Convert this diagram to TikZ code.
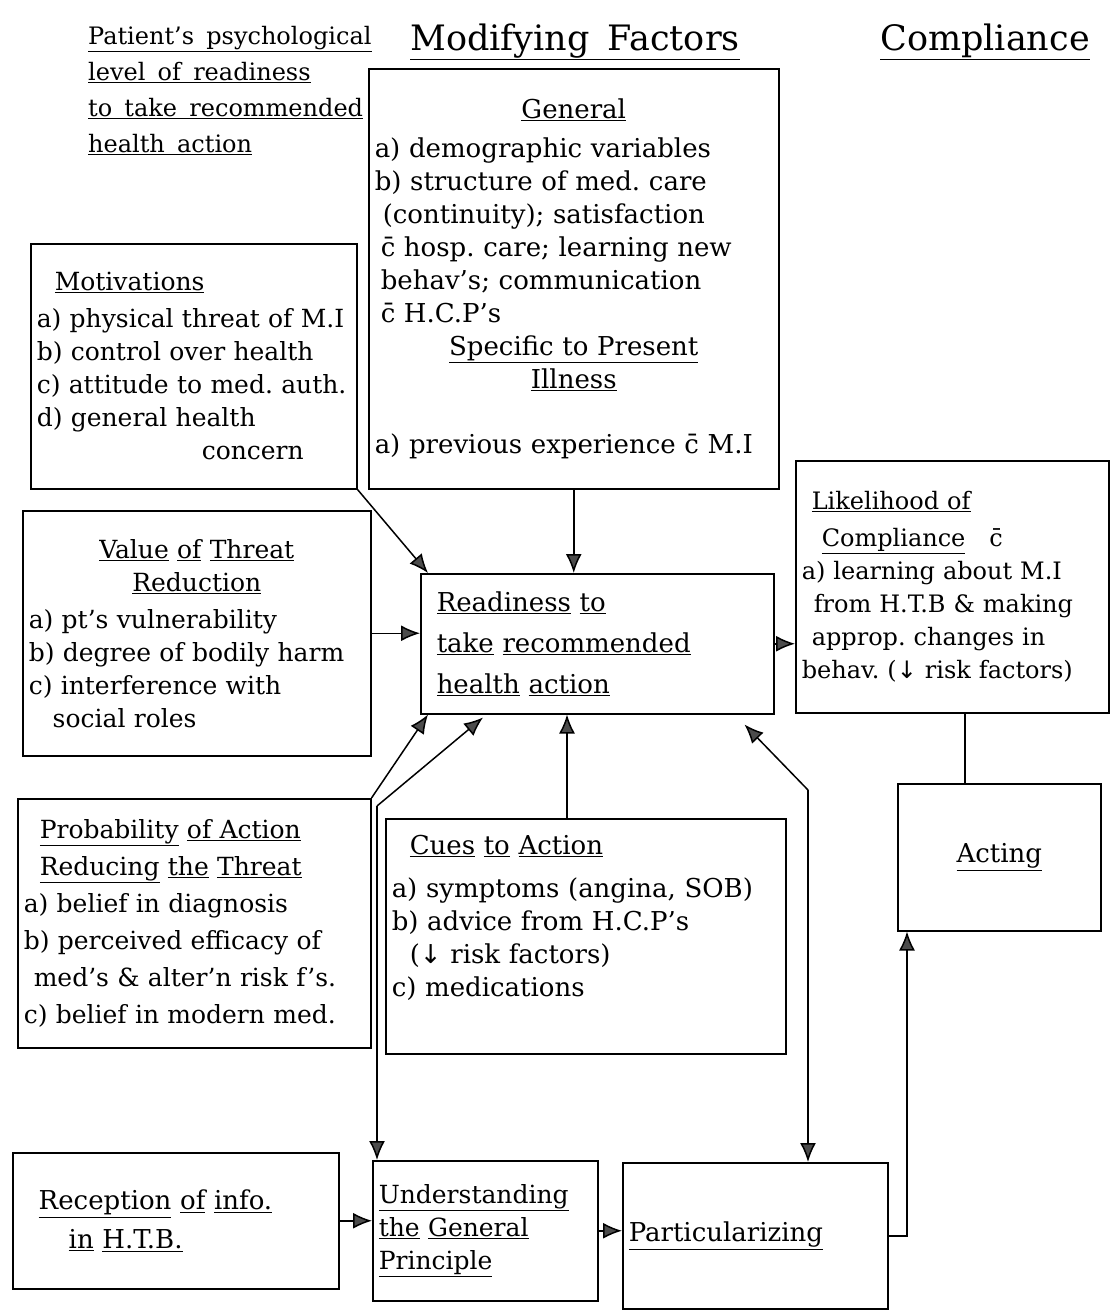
\documentclass[tikz,border=0pt]{standalone}
\usepackage{fontspec}
\setmainfont{DejaVu Serif}[WordSpace=1.6]
\newfontfamily\arrowfont{DejaVu Sans}
\usetikzlibrary{arrows.meta,calc}
\frenchspacing
\newcommand\hw[1]{\fontsize{#1}{33}\selectfont\frenchspacing}
\newcommand\ul[1]{\underline{#1}}
\newcommand\dnarr{{\arrowfont ↓}}
\newcommand\cbar{\={c}}
\newcommand\ctr[1]{\makebox[\hsize][c]{#1}}
\tikzset{
  box/.style={draw, line width=1.5pt, anchor=north west, align=left, inner xsep=6pt, inner ysep=4pt, font=\hw{26}},
  con/.style={line width=1.5pt},
  tipA/.tip={Latex[length=19pt,width=16pt,fill=gray!60!black]},
  arr/.style={con, -tipA},
  head/.style={inner sep=0pt, align=left}
}
\begin{document}
\begin{tikzpicture}[x=1pt,y=-1pt]
\fill[white] (0,0) rectangle (1112,1310);
\useasboundingbox (0,0) rectangle (1112,1310);

% headers
\node[head, anchor=north west, font={\fontsize{24}{36}\selectfont\frenchspacing}] (hdrL) at (88,26) {\ul{Patient's psychological}\\ \ul{level of readiness}\\ \ul{to take recommended}\\ \ul{health action}};
\node[head, font=\hw{35}] (hdrM) at (575,42) {\ul{Modifying Factors}};
\node[head, font=\hw{35}] (hdrR) at (985,42) {\ul{Compliance}};

% boxes
\node[box, minimum width=410pt, minimum height=420pt, text width=398pt] (gen) at (368,68) {%
\ctr{\ul{General}}\\[6pt]
a) demographic variables\\
b) structure of med. care\\
\hspace*{8pt}(continuity); satisfaction\\
\hspace*{6pt}\cbar{} hosp. care; learning new\\
\hspace*{6pt}behav's; communication\\
\hspace*{6pt}\cbar{} H.C.P's\\
\ctr{\ul{Specific to Present}}\\
\ctr{\ul{Illness}}\\[32pt]
a) previous experience \cbar{} M.I};

\node[box, minimum width=326pt, minimum height=245pt, text width=314pt, font=\hw{25}] (mot) at (30,243) {%
\hspace*{18pt}\ul{Motivations}\\[4pt]
a) physical threat of M.I\\
b) control over health\\
c) attitude to med. auth.\\
d) general health\\
\hspace*{165pt}concern};

\node[box, minimum width=348pt, minimum height=245pt, text width=336pt, font=\hw{25}] (val) at (22,510) {%
\ctr{\ul{Value} \ul{of} \ul{Threat}}\\
\ctr{\ul{Reduction}}\\[4pt]
a) pt's vulnerability\\
b) degree of bodily harm\\
c) interference with\\
\hspace*{24pt}social roles};

\node[box, minimum width=353pt, minimum height=140pt, text width=341pt] (ready) at (420,573) {%
\hspace*{10pt}\ul{Readiness} \ul{to}\\[8pt]
\hspace*{10pt}\ul{take} \ul{recommended}\\[8pt]
\hspace*{10pt}\ul{health} \ul{action}};

\node[box, minimum width=313pt, minimum height=252pt, text width=301pt, font=\hw{24}] (like) at (795,460) {%
\hspace*{10pt}\ul{Likelihood of}\\[4pt]
\hspace*{20pt}\ul{Compliance}\hspace*{24pt}\cbar\\
a) learning about M.I\\
\hspace*{12pt}from H.T.B \& making\\
\hspace*{10pt}approp. changes in\\
behav. (\dnarr{} risk factors)};

\node[box, minimum width=203pt, minimum height=147pt, text width=191pt, align=center] (act) at (897,783) {\ul{Acting}};

\node[box, minimum width=353pt, minimum height=249pt, text width=341pt, font=\hw{25}] (prob) at (17,798) {%
\hspace*{16pt}\ul{Probability} \ul{of Action}\\[4pt]
\hspace*{16pt}\ul{Reducing} \ul{the} \ul{Threat}\\[4pt]
a) belief in diagnosis\\[4pt]
b) perceived efficacy of\\[4pt]
\hspace*{10pt}med's \& alter'n risk f's.\\[4pt]
c) belief in modern med.};

\node[box, minimum width=400pt, minimum height=235pt, text width=388pt] (cues) at (385,818) {%
\hspace*{18pt}\ul{Cues} \ul{to} \ul{Action}\\[10pt]
a) symptoms (angina, SOB)\\
b) advice from H.C.P's\\
\hspace*{18pt}(\dnarr{} risk factors)\\
c) medications\\[7pt]\mbox{}};

\node[box, minimum width=326pt, minimum height=136pt, text width=314pt] (rec) at (12,1152) {%
\hspace*{20pt}\ul{Reception} \ul{of} \ul{info.}\\[6pt]
\hspace*{50pt}\ul{in} \ul{H.T.B.}};

\node[box, minimum width=225pt, minimum height=140pt, text width=213pt, font=\hw{25}] (und) at (372,1160) {%
\ul{Understanding}\\
\ul{the} \ul{General}\\
\ul{Principle}};

\node[box, minimum width=265pt, minimum height=146pt, text width=253pt] (part) at (622,1162) {%
\ul{Particularizing}};

% named points
\coordinate (actTop) at ($(act.north west)+(68,0)$);
\coordinate (cuT) at ($(cues.north west)+(182,0)$);
\coordinate (b1) at (377,806);
\coordinate (b2) at (808,790);
\coordinate (pr) at (907,1243);

% connectors
\draw[arr] (mot.south east) -- ($(ready.north west)+(8,0)$);
\draw[arr] (gen.south) -- (gen.south |- ready.north);
\draw[arr] (val.east) -- (val.east -| ready.west);
\draw[arr] (ready.east) -- (ready.east -| like.west);
\draw[con] (like.south -| actTop) -- (actTop);
\draw[arr] (prob.north east) -- ($(ready.south west)+(8,0)$);
\draw[arr] (b1) -- ($(ready.south west)+(63,3)$);
\draw[arr] (b1) -- (b1 |- und.north);
\draw[arr] (cuT) -- (cuT |- ready.south);
\draw[arr] (b2) -- ($(ready.south east)+(-30,10)$);
\draw[arr] (b2) -- (b2 |- part.north);
\draw[arr] (rec.east) -- (rec.east -| und.west);
\draw[arr] (und.east) -- (und.east -| part.west);
\draw[arr] (part.east) -- (part.east -| pr) -- (pr |- act.south);
\end{tikzpicture}
\end{document}
